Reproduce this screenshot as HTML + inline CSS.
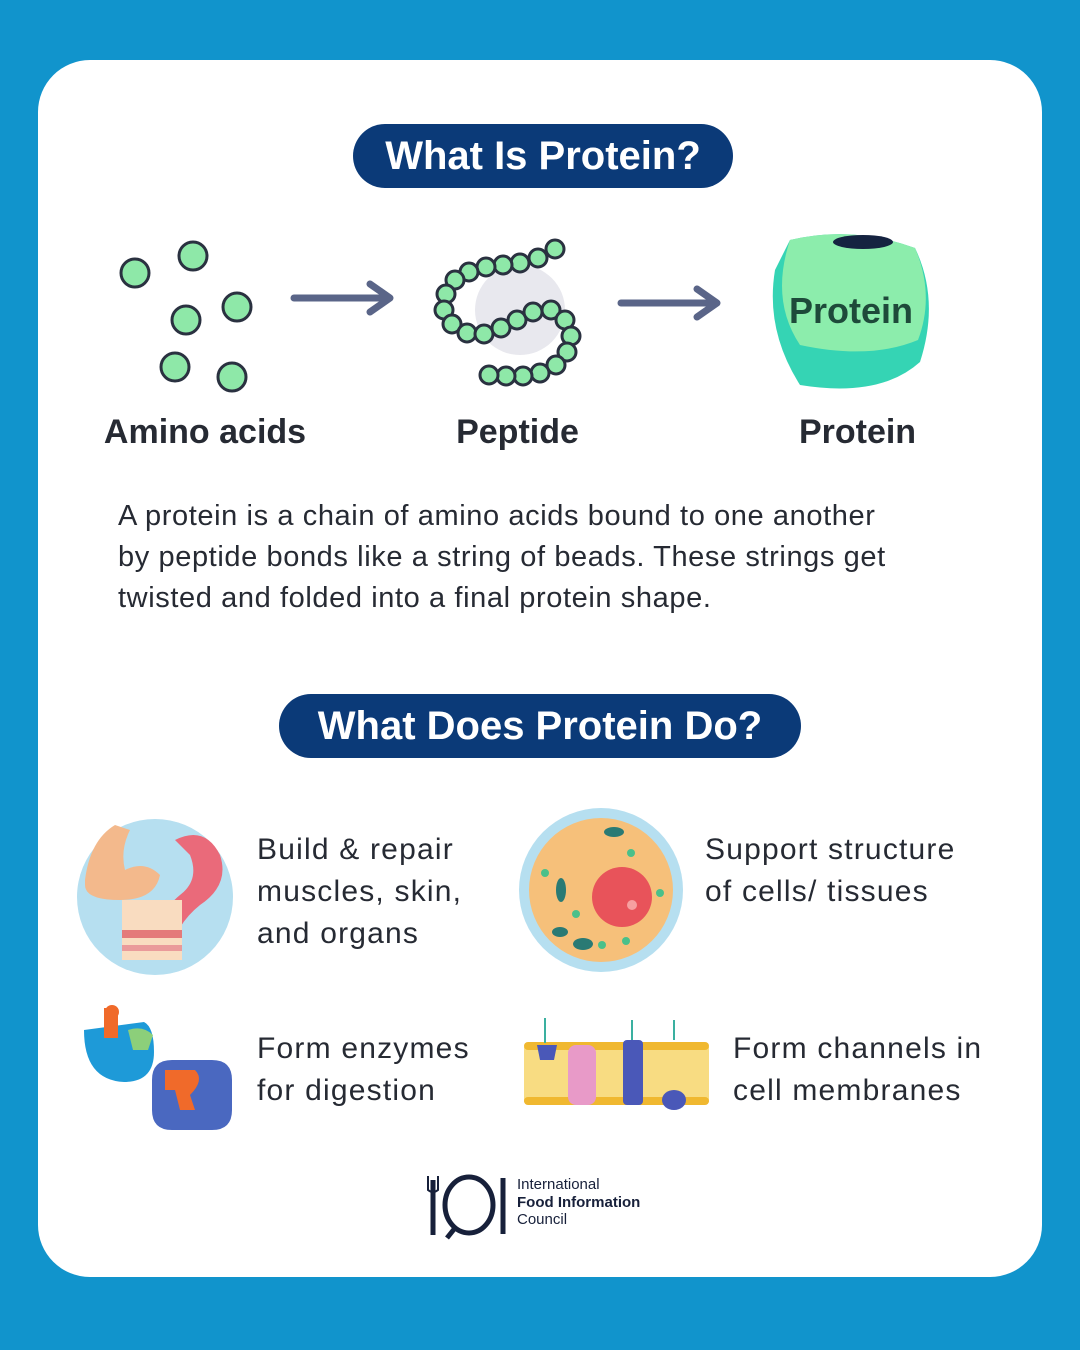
<!DOCTYPE html>
<html><head><meta charset="utf-8"><style>
body{margin:0;width:1080px;height:1350px;background:#1194cc;position:relative;font-family:"Liberation Sans",sans-serif;overflow:hidden}
.card{position:absolute;left:38px;top:60px;width:1004px;height:1217px;background:#fff;border-radius:52px}
.pill{position:absolute;background:#0b3a78;color:#fff;font-weight:bold;font-size:40px;border-radius:34px;text-align:center;line-height:64px;height:64px}
.lbl{position:absolute;font-weight:bold;font-size:34px;color:#262a33;text-align:center}
.t{position:absolute;font-size:30px;color:#262a33;line-height:42px;letter-spacing:1.2px;white-space:nowrap}
</style></head><body>
<div class="card"></div>
<div class="pill" style="left:353px;top:124px;width:380px">What Is Protein?</div>
<svg style="position:absolute;left:0;top:0" width="1080" height="1350">
<g fill="#8ee8a8" stroke="#2a3140" stroke-width="3">
<circle cx="135" cy="273" r="14"/><circle cx="193" cy="256" r="14"/><circle cx="186" cy="320" r="14"/><circle cx="237" cy="307" r="14"/><circle cx="175" cy="367" r="14"/><circle cx="232" cy="377" r="14"/>
</g>
<g stroke="#5a6588" stroke-width="7" fill="none" stroke-linecap="round" stroke-linejoin="round">
<path d="M294 298H388M370 284L390 298L370 312"/>
<path d="M621 303H715M697 289L717 303L697 317"/>
</g>
<circle cx="520" cy="310" r="45" fill="#e8e8ee"/>
<g fill="#8ee8a8" stroke="#2a3140" stroke-width="3">
<circle cx="555" cy="249" r="9"/><circle cx="538" cy="258" r="9"/><circle cx="520" cy="263" r="9"/><circle cx="503" cy="265" r="9"/><circle cx="486" cy="267" r="9"/><circle cx="469" cy="272" r="9"/><circle cx="455" cy="280" r="9"/><circle cx="446" cy="294" r="9"/><circle cx="444" cy="310" r="9"/><circle cx="452" cy="324" r="9"/><circle cx="467" cy="333" r="9"/><circle cx="484" cy="334" r="9"/><circle cx="501" cy="328" r="9"/><circle cx="517" cy="320" r="9"/><circle cx="533" cy="312" r="9"/><circle cx="551" cy="310" r="9"/><circle cx="565" cy="320" r="9"/><circle cx="571" cy="336" r="9"/><circle cx="567" cy="352" r="9"/><circle cx="556" cy="365" r="9"/><circle cx="540" cy="373" r="9"/><circle cx="523" cy="376" r="9"/><circle cx="506" cy="376" r="9"/><circle cx="489" cy="375" r="9"/>
</g>
<path d="M790 240Q852 225 915 248Q940 300 920 362Q880 398 800 385Q765 330 775 270Z" fill="#35d4b4"/>
<path d="M790 240Q852 225 915 248Q935 295 918 340Q870 360 800 345Q770 300 790 240Z" fill="#8cedac"/>
<ellipse cx="863" cy="242" rx="30" ry="7" fill="#152340"/>
<text x="851" y="323" text-anchor="middle" font-family="Liberation Sans" font-weight="bold" font-size="36" fill="#1e4a3a">Protein</text>
<circle cx="155" cy="897" r="78" fill="#b6dff0"/>
<path d="M175 840q30-15 45 15q10 30-20 50q-25 20-30 50l-15 0q0-40 25-60q20-15 10-40z" fill="#ea6a7a"/>
<path d="M85 880q5-40 30-55l15 5q-10 20-5 40q20-10 35 5q-5 25-40 25q-35 0-35-15z" fill="#f3b98c"/>
<rect x="122" y="900" width="60" height="60" fill="#f9dcc0"/><rect x="122" y="930" width="60" height="8" fill="#e47a7a"/><rect x="122" y="945" width="60" height="6" fill="#ea9a9a"/>
<circle cx="601" cy="890" r="82" fill="#b6dff0"/>
<circle cx="601" cy="890" r="72" fill="#f6c07a"/>
<circle cx="622" cy="897" r="30" fill="#e8535a"/><circle cx="632" cy="905" r="5" fill="#f6a0a0"/>
<g fill="#2a7a74"><ellipse cx="561" cy="890" rx="5" ry="12"/><ellipse cx="614" cy="832" rx="10" ry="5"/><ellipse cx="583" cy="944" rx="10" ry="6"/><ellipse cx="560" cy="932" rx="8" ry="5"/></g>
<g fill="#4ac08a"><circle cx="545" cy="873" r="4"/><circle cx="576" cy="914" r="4"/><circle cx="602" cy="945" r="4"/><circle cx="626" cy="941" r="4"/><circle cx="631" cy="853" r="4"/><circle cx="660" cy="893" r="4"/></g>
<path d="M84 1030q0 50 40 52q30 0 30-30q0-25-10-30z" fill="#1e9ad8"/>
<rect x="104" y="1008" width="14" height="30" fill="#f06a2a"/><circle cx="112" cy="1012" r="7" fill="#f06a2a"/>
<path d="M128 1030q15-5 25 5l-5 15h-15z" fill="#8ccf7a"/>
<path d="M152 1080q0-20 20-20h40q20 0 20 20v30q0 20-20 20h-40q-20 0-20-20z" fill="#4a68c0"/>
<path d="M165 1070h30q10 10-5 25l5 15h-15l-5-20h-10z" fill="#f06a2a"/>
<rect x="524" y="1047" width="185" height="55" fill="#f8dc82"/>
<g fill="#f0b830"><rect x="524" y="1042" width="185" height="8" rx="4"/><rect x="524" y="1097" width="185" height="8" rx="4"/></g>
<rect x="568" y="1045" width="28" height="60" rx="8" fill="#e89ac8"/>
<rect x="623" y="1040" width="20" height="65" rx="4" fill="#4a58b8"/>
<path d="M537 1045h20l-3 15h-14z" fill="#4a58b8"/><ellipse cx="674" cy="1100" rx="12" ry="10" fill="#4a58b8"/>
<g stroke="#3ab0a0" stroke-width="2" fill="none"><path d="M545 1043v-25"/><path d="M632 1040v-20"/><path d="M674 1040v-20"/></g>
<g fill="none" stroke="#17203a" stroke-width="5"><path d="M433 1180v55"/><ellipse cx="469" cy="1205" rx="24" ry="28"/><path d="M455 1228l-8 10"/><path d="M503 1178v56"/></g>
<path d="M428 1176v14q5 4 10 0v-14" stroke="#17203a" stroke-width="2" fill="none"/>
</svg>
<div class="lbl" style="left:70px;top:413px;width:270px">Amino acids</div>
<div class="lbl" style="left:420px;top:413px;width:195px">Peptide</div>
<div class="lbl" style="left:760px;top:413px;width:195px">Protein</div>
<div class="t" style="left:118px;top:496px;font-size:29px;line-height:41px;letter-spacing:0.6px">A protein is a chain of amino acids bound to one another<br>by peptide bonds like a string of beads. These strings get<br>twisted and folded into a final protein shape.</div>
<div class="pill" style="left:279px;top:694px;width:522px">What Does Protein Do?</div>
<div class="t" style="left:257px;top:829px">Build &amp; repair<br>muscles, skin,<br>and organs</div>
<div class="t" style="left:705px;top:829px">Support structure<br>of cells/ tissues</div>
<div class="t" style="left:257px;top:1028px">Form enzymes<br>for digestion</div>
<div class="t" style="left:733px;top:1028px">Form channels in<br>cell membranes</div>
<div style="position:absolute;left:517px;top:1176px;font-size:15px;color:#17203a;line-height:17.5px">International<br><b>Food Information</b><br>Council</div>
</body></html>
